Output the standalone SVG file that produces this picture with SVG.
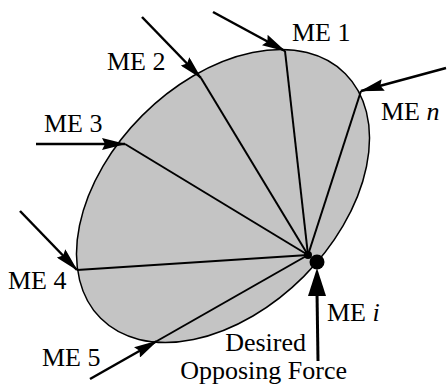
<svg xmlns="http://www.w3.org/2000/svg" width="448" height="388" viewBox="0 0 448 388">
<style>
.lbl{font-family:"Liberation Serif","Times New Roman",serif;font-size:26px;fill:#000}
.it{font-style:italic}
.ray{stroke:#000;stroke-width:2;fill:none}
.arr{stroke:#000;stroke-width:2.5;fill:none;marker-end:url(#ah)}
</style>
<defs>
<marker id="ah" viewBox="0 0 24 12" refX="23" refY="6" markerWidth="24" markerHeight="12" markerUnits="userSpaceOnUse" orient="auto">
<path d="M0,0 L24,6 L0,12 L3,6 z" fill="#000"/>
</marker>
</defs>
<g id="body">
<ellipse cx="223" cy="196" rx="173" ry="114" transform="rotate(-45 223 196)" fill="#c4c4c4" stroke="#000" stroke-width="1.5"/>
</g>
<g id="connectors">
<line class="ray" x1="285" y1="51" x2="308" y2="255"/>
<line class="ray" x1="361" y1="91" x2="308" y2="255"/>
<line class="ray" x1="201" y1="78" x2="308" y2="255"/>
<line class="ray" x1="125" y1="144" x2="308" y2="255"/>
<line class="ray" x1="77" y1="270" x2="308" y2="255"/>
<line class="ray" x1="157" y1="341" x2="308" y2="255"/>
<line class="arr" x1="213" y1="12" x2="285" y2="51"/>
<line class="arr" x1="142" y1="17" x2="201" y2="78"/>
<line class="arr" x1="36" y1="144" x2="125" y2="144"/>
<line class="arr" x1="446" y1="68" x2="361" y2="91"/>
<line class="arr" x1="20" y1="211" x2="77" y2="270"/>
<line class="arr" x1="90" y1="379" x2="157" y2="341"/>
<line x1="318" y1="361" x2="317" y2="292" stroke="#000" stroke-width="3"/>
<polygon points="317,268 326,296 308,296" fill="#000"/>
<circle cx="317" cy="262" r="7.5" fill="#000"/>
<circle cx="308" cy="255" r="4" fill="#000"/>
</g>
<g id="labels">
<text class="lbl" x="292" y="41">ME 1</text>
<text class="lbl" x="107" y="70">ME 2</text>
<text class="lbl" x="44" y="132">ME 3</text>
<text class="lbl" x="381" y="120">ME <tspan class="it">n</tspan></text>
<text class="lbl" x="8" y="289">ME 4</text>
<text class="lbl" x="42" y="366">ME 5</text>
<text class="lbl" x="327" y="321">ME <tspan class="it">i</tspan></text>
<text class="lbl" x="306" y="351" text-anchor="end">Desired</text>
<text class="lbl" x="347" y="379" text-anchor="end">Opposing Force</text>
</g>
</svg>
